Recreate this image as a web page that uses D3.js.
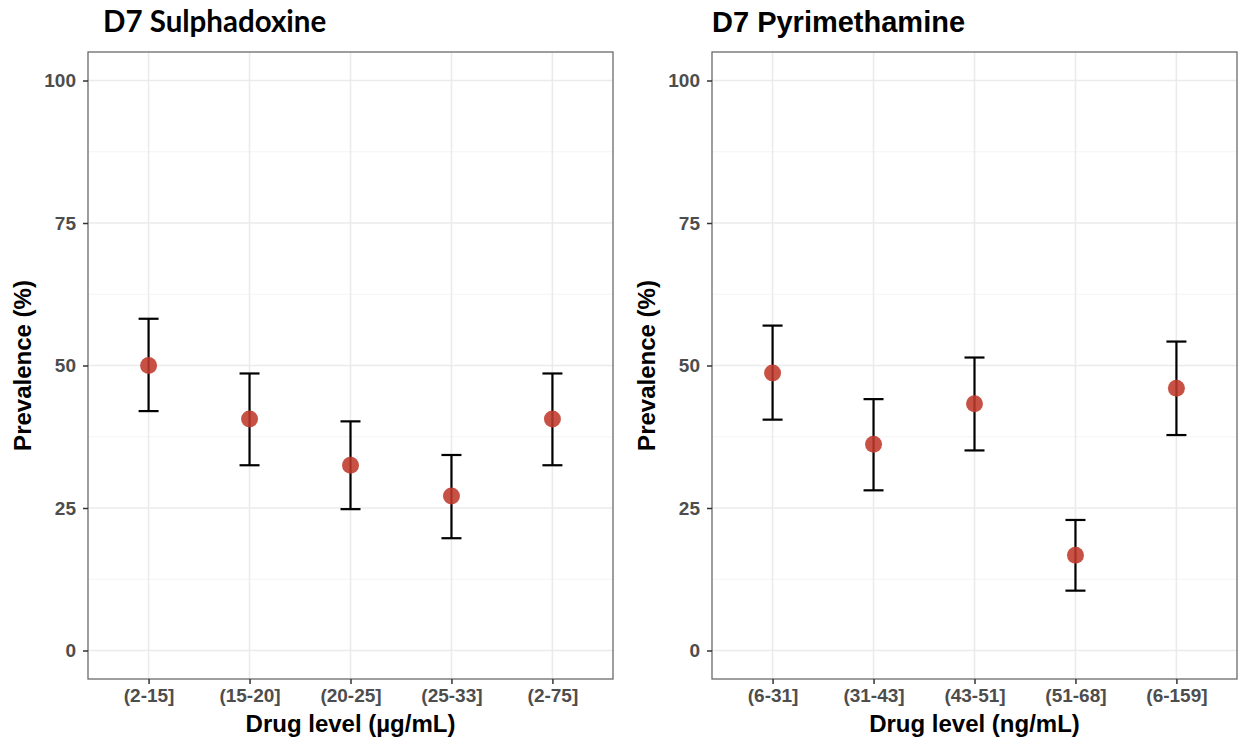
<!DOCTYPE html>
<html>
<head>
<meta charset="utf-8">
<script src="https://cdn.jsdelivr.net/npm/d3@7"></script>
<style>
  html, body { margin: 0; padding: 0; background: #fff; }
  svg { display: block; }
</style>
</head>
<body>
<svg id="chart" width="1239" height="742"></svg>
<script>
// ---- Data ----
const sulphaCategories = ["(2-15]", "(15-20]", "(20-25]", "(25-33]", "(2-75]"];
const sulphaPrevalence = [50.0, 40.6, 32.5, 27.1, 40.6];
const sulphaLower = [42.0, 32.5, 24.8, 19.7, 32.5];
const sulphaUpper = [58.2, 48.6, 40.2, 34.3, 48.6];

const pyriCategories = ["(6-31]", "(31-43]", "(43-51]", "(51-68]", "(6-159]"];
const pyriPrevalence = [48.7, 36.2, 43.3, 16.7, 46.0];
const pyriLower = [40.5, 28.1, 35.1, 10.5, 37.8];
const pyriUpper = [57.0, 44.1, 51.4, 22.9, 54.2];

const yTicks = [0, 25, 50, 75, 100];
const yMinorTicks = [12.5, 37.5, 62.5, 87.5];

const panels = [
  { title: "D7 Sulphadoxine", xTitle: "Drug level (µg/mL)", cats: sulphaCategories,
    prev: sulphaPrevalence, lo: sulphaLower, hi: sulphaUpper,
    x0: 88, x1: 613, titleX: 103, titleFont: "Lato, 'Open Sans', sans-serif", titleSize: 29.5 },
  { title: "D7 Pyrimethamine", xTitle: "Drug level (ng/mL)", cats: pyriCategories,
    prev: pyriPrevalence, lo: pyriLower, hi: pyriUpper,
    x0: 712, x1: 1237, titleX: 712, titleFont: "'Liberation Sans', Arial, sans-serif", titleSize: 29 }
];

const svg = d3.select("#chart");
const yTop = 52, yBottom = 679;
const font = "'Liberation Sans', Arial, Helvetica, sans-serif";

panels.forEach(p => {
  const x = d3.scalePoint().domain(p.cats).range([p.x0, p.x1]).padding(0.6);
  const y = d3.scaleLinear().domain([-5, 105]).range([yBottom, yTop]);
  const g = svg.append("g");

  g.append("rect").attr("x", p.x0).attr("y", yTop)
    .attr("width", p.x1 - p.x0).attr("height", yBottom - yTop).attr("fill", "#fff");

  // minor grid
  g.selectAll(".minor").data(yMinorTicks).enter().append("line")
    .attr("x1", p.x0).attr("x2", p.x1)
    .attr("y1", d => y(d)).attr("y2", d => y(d))
    .attr("stroke", "#F4F4F4").attr("stroke-width", 1);

  // major grid
  g.selectAll(".major").data(yTicks).enter().append("line")
    .attr("x1", p.x0).attr("x2", p.x1)
    .attr("y1", d => y(d)).attr("y2", d => y(d))
    .attr("stroke", "#EBEBEB").attr("stroke-width", 1.6);
  g.selectAll(".vgrid").data(p.cats).enter().append("line")
    .attr("x1", d => x(d)).attr("x2", d => x(d))
    .attr("y1", yTop).attr("y2", yBottom)
    .attr("stroke", "#EBEBEB").attr("stroke-width", 1.6);

  // error bars
  const idx = p.cats.map((c, i) => i);
  const eb = g.append("g");
  eb.selectAll(".v").data(idx).enter().append("line")
    .attr("x1", i => x(p.cats[i])).attr("x2", i => x(p.cats[i]))
    .attr("y1", i => y(p.lo[i])).attr("y2", i => y(p.hi[i]))
    .attr("stroke", "#000").attr("stroke-width", 2.2);
  eb.selectAll(".ct").data(idx).enter().append("line")
    .attr("x1", i => x(p.cats[i]) - 10).attr("x2", i => x(p.cats[i]) + 10)
    .attr("y1", i => y(p.hi[i])).attr("y2", i => y(p.hi[i]))
    .attr("stroke", "#000").attr("stroke-width", 2.2);
  eb.selectAll(".cb").data(idx).enter().append("line")
    .attr("x1", i => x(p.cats[i]) - 10).attr("x2", i => x(p.cats[i]) + 10)
    .attr("y1", i => y(p.lo[i])).attr("y2", i => y(p.lo[i]))
    .attr("stroke", "#000").attr("stroke-width", 2.2);

  // points
  g.selectAll(".pt").data(idx).enter().append("circle")
    .attr("cx", i => x(p.cats[i])).attr("cy", i => y(p.prev[i]))
    .attr("r", 8.5).attr("fill", "#C0392B").attr("fill-opacity", 0.88);

  // border
  g.append("rect").attr("x", p.x0).attr("y", yTop)
    .attr("width", p.x1 - p.x0).attr("height", yBottom - yTop)
    .attr("fill", "none").attr("stroke", "#6a6a6a").attr("stroke-width", 1.3);

  // axes
  const yAxis = g.append("g").attr("transform", `translate(${p.x0},0)`)
    .call(d3.axisLeft(y).tickValues(yTicks).tickSize(5).tickPadding(7));
  yAxis.select(".domain").remove();
  yAxis.selectAll("line").attr("stroke", "#333").attr("stroke-width", 1.5);
  yAxis.selectAll("text").attr("font-family", font).attr("font-weight", "bold")
    .attr("font-size", 19).attr("fill", "#4D4D4D");

  const xAxis = g.append("g").attr("transform", `translate(0,${yBottom})`)
    .call(d3.axisBottom(x).tickSize(5).tickPadding(5));
  xAxis.select(".domain").remove();
  xAxis.selectAll("line").attr("stroke", "#333").attr("stroke-width", 1.5);
  xAxis.selectAll("text").attr("font-family", font).attr("font-weight", "bold")
    .attr("font-size", 19).attr("fill", "#4D4D4D");

  // axis titles
  g.append("text").attr("x", (p.x0 + p.x1) / 2).attr("y", 732)
    .attr("text-anchor", "middle").attr("font-family", font).attr("font-weight", "bold")
    .attr("font-size", 24).attr("fill", "#000").text(p.xTitle);
  g.append("text")
    .attr("transform", `translate(${p.x0 - 57},${(yTop + yBottom) / 2}) rotate(-90)`)
    .attr("text-anchor", "middle").attr("font-family", font).attr("font-weight", "bold")
    .attr("font-size", 24).attr("fill", "#000").text("Prevalence (%)");

  // panel title
  g.append("text").attr("x", p.titleX).attr("y", 32)
    .attr("font-family", p.titleFont).attr("font-weight", "bold")
    .attr("font-size", p.titleSize).attr("fill", "#000").text(p.title);
});
</script>
</body>
</html>
